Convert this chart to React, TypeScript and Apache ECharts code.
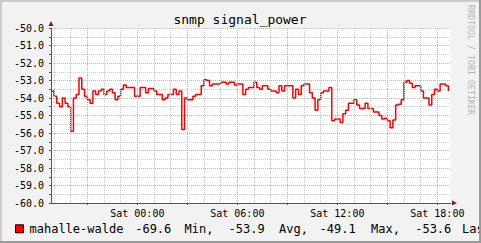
import React, { useEffect, useRef } from 'react';
import * as echarts from 'echarts';

// ---- data (hours relative to Sat 00:00) ----
const chartTitle = 'snmp signal_power';
const watermark = 'RRDTOOL / TOBI OETIKER';
const seriesName = 'mahalle-walde';
const startHour = -5 - 10 / 60; // Fri 18:50
const stepHours = 10 / 60; // 10 minute samples
const values = [
  -53.6, -53.9, -54.3, -54.5, -54.0, -54.3, -54.5, -55.9, -54.0, -53.8,
  -52.85, -53.5, -53.9, -54.1, -54.3, -53.6, -53.8, -53.6, -53.5, -53.8,
  -53.6, -53.5, -53.7, -54.1, -53.9, -53.5, -53.25, -53.4, -53.4, -53.4,
  -53.9, -53.9, -53.4, -53.4, -53.7, -53.45, -53.45, -53.6, -53.8, -53.8,
  -54.1, -54.0, -53.8, -53.8, -53.5, -53.8, -53.6, -55.8, -54.0, -54.1,
  -54.1, -53.9, -53.8, -53.8, -53.3, -52.95, -53.0, -53.3, -53.2, -53.2,
  -53.2, -53.1, -53.1, -53.2, -53.1, -53.1, -53.25, -53.2, -53.2, -53.8,
  -53.5, -53.4, -53.4, -53.1, -53.4, -53.5, -53.3, -53.3, -53.5, -53.6,
  -53.6, -53.7, -53.3, -53.6, -53.3, -53.3, -53.3, -54.0, -53.5, -53.8,
  -53.3, -53.2, -53.2, -53.7, -54.0, -54.7, -54.1, -53.7, -53.6, -53.6,
  -53.4, -55.3, -55.2, -55.2, -55.4, -54.9, -54.7, -54.3, -54.3, -54.1,
  -54.4, -54.6, -54.6, -54.3, -54.6, -54.6, -54.8, -54.8, -55.0, -55.2,
  -55.15, -55.3, -55.7, -55.25, -54.4, -54.35, -54.1, -53.1, -53.0, -53.15,
  -53.4, -53.3, -53.3, -53.6, -54.0, -54.0, -54.4, -53.8, -53.5, -53.6,
  -53.2, -53.2, -53.3, -53.6,
];
const xMin = -5.18;
const xMax = 18.82;
const yMin = -60;
const yMax = -50;
const xLabelHours = [0, 6, 12, 18];
const xLabelTexts = ['Sat 00:00', 'Sat 06:00', 'Sat 12:00', 'Sat 18:00'];
const xMajorHours = [-3, 0, 3, 6, 9, 12, 15, 18];
const legendItems = [
  { text: 'mahalle-walde', x: 29.5 },
  { text: '-69.6', x: 135.2 },
  { text: 'Min,', x: 184.5 },
  { text: '-53.9', x: 228.5 },
  { text: 'Avg,', x: 279 },
  { text: '-49.1', x: 319.5 },
  { text: 'Max,', x: 371 },
  { text: '-53.6', x: 415.2 },
  { text: 'Las', x: 462 },
];

const MONO = 'DejaVu Sans Mono';
const MINOR_GRID = '#cfcfcf';
const MAJOR_GRID = '#e6a3a3';

export default function App() {
  const ref = useRef<HTMLDivElement>(null);
  useEffect(() => {
    if (!ref.current) return;
    const chart = echarts.init(ref.current, null, { renderer: 'svg' });
    const hourLines: number[] = [];
    for (let h = Math.ceil(xMin); h <= Math.floor(xMax); h++) hourLines.push(h);

    chart.setOption({
      animation: false,
      backgroundColor: '#f2f2f2',
      grid: {
        left: 51,
        top: 28,
        width: 400,
        height: 175,
        show: true,
        backgroundColor: '#ffffff',
        borderWidth: 0,
      },
      xAxis: {
        type: 'value',
        min: xMin,
        max: xMax,
        axisLine: { show: true, onZero: false, lineStyle: { color: '#555555', width: 1 } },
        axisTick: { show: true, length: 2, customValues: xMajorHours, lineStyle: { color: '#555555' } },
        axisLabel: {
          show: true,
          customValues: xLabelHours,
          formatter: (v: number) => {
            const i = xLabelHours.indexOf(Math.round(v));
            return i >= 0 ? xLabelTexts[i] : '';
          },
          fontFamily: MONO,
          fontSize: 10,
          color: '#000000',
          margin: 5,
        },
        splitLine: { show: false },
      },
      yAxis: {
        type: 'value',
        min: yMin,
        max: yMax,
        interval: 1,
        axisLine: { show: true, onZero: false, lineStyle: { color: '#555555', width: 1 } },
        axisTick: { show: true, length: 2, lineStyle: { color: '#555555' } },
        minorTick: { show: true, splitNumber: 2, length: 2, lineStyle: { color: '#555555' } },
        axisLabel: {
          formatter: (v: number) => v.toFixed(1),
          fontFamily: MONO,
          fontSize: 10,
          color: '#000000',
          margin: 7,
        },
        splitLine: { show: true, lineStyle: { color: MAJOR_GRID, type: [1, 1], width: 1 } },
        minorSplitLine: { show: true, lineStyle: { color: MINOR_GRID, type: [1, 1], width: 1 } },
      },
      series: [
        {
          type: 'line',
          z: 1,
          data: [],
          silent: true,
          markLine: {
            silent: true,
            symbol: ['none', 'none'],
            label: { show: false },
            animation: false,
            data: hourLines.map((h) => ({
              xAxis: h,
              lineStyle: {
                color: h % 3 === 0 ? MAJOR_GRID : MINOR_GRID,
                type: [1, 1],
                width: 1,
              },
            })),
          },
        },
        {
          type: 'line',
          name: seriesName,
          z: 3,
          step: 'end',
          showSymbol: false,
          symbol: 'none',
          clip: true,
          lineStyle: { color: '#ff0000', width: 1.5 },
          data: values.map((v, i) => [startHour + i * stepHours, v]),
        },
      ],
      graphic: [
        { type: 'rect', shape: { x: 0, y: 0, width: 481, height: 2 }, style: { fill: '#cbcbcb' }, silent: true },
        { type: 'rect', shape: { x: 0, y: 0, width: 2, height: 243 }, style: { fill: '#cbcbcb' }, silent: true },
        { type: 'rect', shape: { x: 0, y: 241, width: 481, height: 2 }, style: { fill: '#999999' }, silent: true },
        { type: 'rect', shape: { x: 479, y: 0, width: 2, height: 243 }, style: { fill: '#999999' }, silent: true, z: 200 },
        {
          type: 'text',
          x: 240,
          y: 19,
          style: { text: chartTitle, fontFamily: MONO, fontSize: 13, fill: '#000000', align: 'center', verticalAlign: 'middle' },
        },
        {
          type: 'text',
          x: 470.5,
          y: 60,
          rotation: -Math.PI / 2,
          style: { text: watermark, fontFamily: MONO, fontSize: 8.3, fill: '#b4b4b4', align: 'center', verticalAlign: 'middle' },
        },
        { type: 'polygon', shape: { points: [[48.5, 26], [53.5, 26], [51, 21]] }, style: { fill: '#7f1f1f' } },
        { type: 'polygon', shape: { points: [[452, 200.5], [452, 205.5], [457, 203]] }, style: { fill: '#7f1f1f' } },
        {
          type: 'rect',
          shape: { x: 15.5, y: 224.8, width: 8, height: 8 },
          style: { fill: '#ff0000', stroke: '#000000', lineWidth: 1 },
        },
        ...legendItems.map((it) => ({
          type: 'text',
          x: it.x,
          y: 229.3,
          z: 100,
          style: { text: it.text, fontFamily: MONO, fontSize: 12, fill: '#000000', align: 'left', verticalAlign: 'middle' },
        })),
      ],
    });
    return () => chart.dispose();
  }, []);
  return <div ref={ref} style={{ position: 'fixed', left: 0, top: 0, width: 481, height: 243 }} />;
}
